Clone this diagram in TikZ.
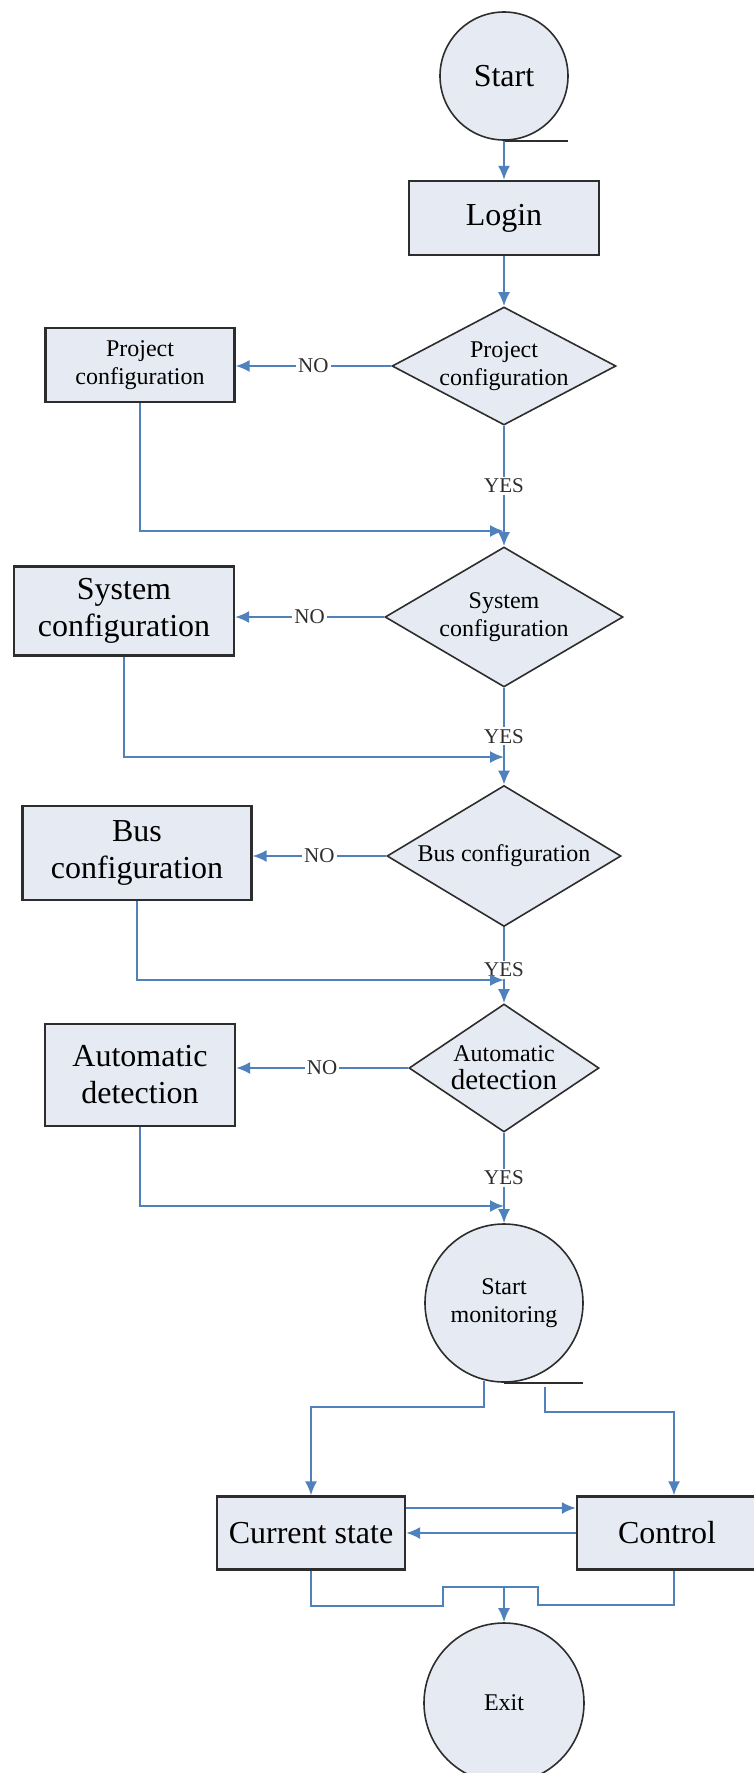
\documentclass[tikz,border=0pt]{standalone}
\usepackage{fontspec}
\setmainfont{Liberation Serif}
\usetikzlibrary{shapes.geometric,arrows.meta}
\definecolor{flowblue}{RGB}{79,129,189}
\definecolor{boxfill}{RGB}{230,234,242}
\definecolor{boxline}{RGB}{45,45,45}
\newcommand\bigtxt{\fontsize{16}{18.5}\selectfont}
\newcommand\smalltxt{\fontsize{12}{14}\selectfont}

\begin{document}
\begin{tikzpicture}[x=0.5pt,y=-0.5pt,
	flow/.style={flowblue,line width=1pt,-{Latex[length=7pt,width=6pt]}},
	line/.style={flowblue,line width=1pt},
	proc/.style={draw=boxline,fill=boxfill,line width=1.1pt,rectangle,inner sep=0pt,align=center},
	decide/.style={draw=boxline,fill=boxfill,line width=0.8pt,diamond,inner sep=0pt,align=center},
	term/.style={draw=boxline,fill=boxfill,line width=0.8pt,circle,inner sep=0pt,align=center},
	lab/.style={fill=white,text=boxline,inner sep=1pt,font=\fontsize{10.5}{12}\selectfont}]


\useasboundingbox (0,0) rectangle (754,1773);


\node[term,minimum size=64pt,font=\bigtxt] (start) at (504,76) {Start};
\draw[boxline,line width=0.8pt] (start.south) -- ++(64,0);% tail
\node[proc,minimum width=95pt,minimum height=37pt,font=\bigtxt] (login) at (504,218) {Login};

\node[decide,minimum width=112pt,minimum height=59pt,shape aspect=1.9,font=\smalltxt] (prj) at (504,366) {Project\\configuration};
\node[decide,minimum width=119pt,minimum height=70pt,shape aspect=1.7,font=\smalltxt] (sys) at (504,617) {System\\configuration};
\node[decide,minimum width=117pt,minimum height=70.5pt,shape aspect=1.66,font=\smalltxt] (bus) at (504,856) {Bus configuration};
\node[decide,minimum width=95pt,minimum height=64pt,shape aspect=1.48,font=\smalltxt] (auto) at (504,1068) {Automatic\\{\fontsize{14.5}{16}\selectfont detection}};

\node[proc,minimum width=94.5pt,minimum height=37pt,font=\smalltxt] (pcfg) at (140,365) {Project\\configuration};
\node[proc,minimum width=110pt,minimum height=44.5pt,font=\bigtxt] (scfg) at (124,611) {System\\configuration};
\node[proc,minimum width=114.5pt,minimum height=47pt,font=\bigtxt] (bcfg) at (137,853) {Bus\\configuration};
\node[proc,minimum width=95pt,minimum height=51pt,font=\bigtxt] (adet) at (140,1075) {Automatic\\detection};

\node[term,minimum size=79pt,font=\smalltxt] (mon) at (504,1303) {Start\\monitoring};
\draw[boxline,line width=0.8pt] (mon.south) -- ++(79,0);% tail

\node[proc,minimum width=94pt,minimum height=36.5pt,font=\bigtxt] (cur) at (311,1533) {Current state};
\node[proc,minimum width=90pt,minimum height=36.5pt,font=\bigtxt] (ctrl) at (667,1533) {Control};
\node[term,minimum size=80pt,font=\smalltxt] (exit) at (504,1703) {Exit};


\draw[flow] (start) -- (login);
\draw[flow] (login) -- (prj);

% main line
\draw[flow] (prj) -- node[lab] {YES} (sys);
\draw[flow] (sys) -- node[lab] {YES} (bus);
\draw[flow] (bus) -- node[lab,pos=0.56] {YES} (auto);
\draw[flow] (auto) -- node[lab] {YES} (mon);

% no branches
\draw[flow] (prj.west) -- node[lab] {NO} (prj.west -| pcfg.east);
\draw[flow] (sys.west) -- node[lab] {NO} (sys.west -| scfg.east);
\draw[flow] (bus.west) -- node[lab] {NO} (bus.west -| bcfg.east);
\draw[flow] (auto.west) -- node[lab] {NO} (auto.west -| adet.east);

% back to main line
\coordinate (j1) at (504,531);
\coordinate (j2) at (504,757);
\coordinate (j3) at (504,980);
\coordinate (j4) at (504,1206);
\draw[flow] (pcfg.south) |- (j1);
\draw[flow] (scfg.south) |- (j2);
\draw[flow] (bcfg.south) |- (j3);
\draw[flow] (adet.south) |- (j4);

% monitoring
\coordinate (mL) at (484,1381);
\coordinate (mR) at (545,1387);
\draw[flow] (mL) -- ++(0,26) -| (cur.north);
\draw[flow] (mR) -- ++(0,25) -| ([xshift=3.5pt]ctrl.north);

\draw[flow] ([yshift=12.5pt]cur.east) -- ([yshift=12.5pt]cur.east -| ctrl.west);
\draw[flow] (ctrl.west) -- (cur.east);

\coordinate (mrg) at (504,1587);
\draw[line] (cur.south) -- ++(0,35) -| (443,1587) -| (538,1605) -| ([xshift=3.5pt]ctrl.south);
\draw[flow] (mrg) -- (exit);


\end{tikzpicture}
\end{document}
